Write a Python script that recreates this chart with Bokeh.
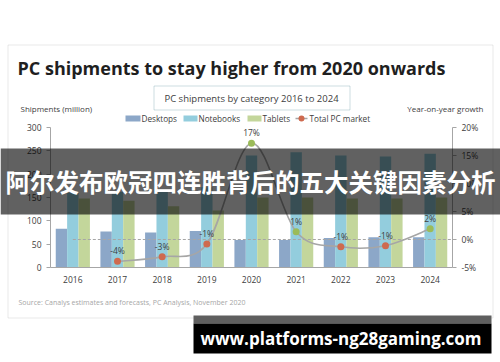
from bokeh.plotting import figure
from bokeh.models import (Range1d, LinearAxis, FixedTicker, PrintfTickFormatter,
                          Label, BoxAnnotation, ColumnDataSource)
from bokeh.transform import dodge
from bokeh.core.properties import value
from bokeh.embed import file_html
from bokeh.resources import INLINE

# ---------------- data ----------------
years = ["2016", "2017", "2018", "2019", "2020", "2021", "2022", "2023", "2024"]
desktops = [83, 77, 75, 78, 59, 59, 63, 65, 65]
notebooks = [160, 162, 165, 172, 240, 247, 240, 238, 244]
tablets = [148, 143, 131, 122, 150, 150, 148, 148, 150]
growth_years = ["2017", "2018", "2019", "2020", "2021", "2022", "2023", "2024"]
growth = [-3.9, -3.1, -0.8, 17.2, 1.4, -1.3, -1.1, 1.9]
left_ticks = [0, 50, 100, 150, 200, 250, 300]
right_ticks = [-5, 0, 5, 10, 15, 20]

title = "PC shipments to stay higher from 2020 onwards"
subtitle = "PC shipments by category 2016 to 2024"
banner = "阿尔发布欧冠四连胜背后的五大关键因素分析"
url = "www.platforms-ng28gaming.com"
source_note = "Source: Canalys estimates and forecasts, PC Analysis, November 2020"

C_DESK = "#8CA7C8"
C_NOTE = "#93CDDD"
C_TAB = "#C3D69B"
C_RED = "#CE6A4F"
C_GREEN = "#9BBB59"
C_LINE = "#A6A6A6"
C_TXT = "#404040"
C_AX = "#A6A6A6"

# ---------------- layout geometry (canvas pixels) ----------------
W, H = 500, 362
PX_L, PX_R, PY_T, PY_B = 50, 452, 127, 267   # plot area
L_MIN, L_MAX = left_ticks[0], left_ticks[-1]
R_MIN, R_MAX = right_ticks[0], right_ticks[-1]
nb = len(years)
ppx = (PX_R - PX_L) / nb
ppy = (PY_B - PY_T) / (L_MAX - L_MIN)
ppr = (PY_B - PY_T) / (R_MAX - R_MIN)
x_rng = Range1d(-0.5 - PX_L / ppx, nb - 0.5 + (W - PX_R) / ppx)
y_rng = Range1d(L_MIN - (H - PY_B) / ppy, L_MAX + PY_T / ppy)
r_rng = Range1d(R_MIN - (H - PY_B) / ppr, R_MAX + PY_T / ppr)

p = figure(width=W, height=H, output_backend="svg", toolbar_location=None,
           x_range=x_rng, y_range=y_rng, min_border=0,
           background_fill_color="white", border_fill_color="white")
p.outline_line_color = None
p.xgrid.visible = False
p.ygrid.visible = False
p.extra_y_ranges = {"pct": r_rng}

idx = list(range(nb))
src = ColumnDataSource(dict(x=idx, desktops=desktops, notebooks=notebooks, tablets=tablets))
bw = 0.255
p.vbar(x=dodge("x", -bw, range=p.x_range), top="desktops", width=bw, source=src,
       fill_color=C_DESK, line_color=None)
p.vbar(x=dodge("x", 0, range=p.x_range), top="notebooks", width=bw, source=src,
       fill_color=C_NOTE, line_color=None)
p.vbar(x=dodge("x", bw, range=p.x_range), top="tablets", width=bw, source=src,
       fill_color=C_TAB, line_color=None)

# zero reference line (secondary axis)
p.segment(x0=[idx[0]], y0=[0], x1=[nb - 0.5], y1=[0], y_range_name="pct",
          line_color=C_LINE, line_dash="3 2", line_width=1)

# smoothed growth line (Catmull-Rom -> cubic bezier)
gx = [years.index(y) for y in growth_years]
n = len(gx)
bx0, by0, bx1, by1, cx0, cy0, cx1, cy1 = [], [], [], [], [], [], [], []
for k in range(n - 1):
    pk = (gx[k], growth[k])
    pn = (gx[k + 1], growth[k + 1])
    pp = (gx[k - 1], growth[k - 1]) if k > 0 else pk
    pn2 = (gx[k + 2], growth[k + 2]) if k + 2 < n else pn
    bx0.append(pk[0]); by0.append(pk[1])
    bx1.append(pn[0]); by1.append(pn[1])
    cx0.append(pk[0] + (pn[0] - pp[0]) / 6); cy0.append(pk[1] + (pn[1] - pp[1]) / 6)
    cx1.append(pn[0] - (pn2[0] - pk[0]) / 6); cy1.append(pn[1] - (pn2[1] - pk[1]) / 6)
p.bezier(x0=bx0, y0=by0, x1=bx1, y1=by1, cx0=cx0, cy0=cy0, cx1=cx1, cy1=cy1,
         y_range_name="pct", line_color=C_LINE, line_width=1.6)

gcol = [C_GREEN if v > 0 else C_RED for v in growth]
p.scatter(x=gx, y=growth, size=7, fill_color=gcol, line_color=None, y_range_name="pct")
glab = [f"{round(v)}%" for v in growth]
p.text(x=gx, y=growth, text=glab, y_range_name="pct", y_offset=-10.5,
       text_align="center", text_baseline="middle", text_font=value("Open Sans"),
       text_font_size="8.5px", text_color=C_TXT)

# ---------------- axes (fixed at the plot-area edges) ----------------
xa = p.xaxis[0]
xa.fixed_location = L_MIN
xa.bounds = (-0.5, nb - 0.5)
xa.ticker = FixedTicker(ticks=idx)
xa.major_label_overrides = {i: y for i, y in zip(idx, years)}
xa.major_tick_out = 0
xa.major_tick_in = 0
xa.minor_tick_out = 0
xa.minor_tick_in = 0
xa.major_label_standoff = 8

ya = p.yaxis[0]
ya.fixed_location = -0.5
ya.bounds = (L_MIN, L_MAX)
ya.ticker = FixedTicker(ticks=left_ticks)
ya.major_tick_out = 4
ya.major_tick_in = 0
ya.minor_tick_out = 0
ya.minor_tick_in = 0
ya.major_label_standoff = 5

yr = LinearAxis(y_range_name="pct", ticker=FixedTicker(ticks=right_ticks),
                formatter=PrintfTickFormatter(format="%d%%"))
yr.fixed_location = nb - 0.5
yr.bounds = (R_MIN, R_MAX)
yr.major_tick_out = 4
yr.major_tick_in = 0
yr.minor_tick_out = 0
yr.minor_tick_in = 0
yr.major_label_standoff = 5
p.add_layout(yr, "right")

for ax in (xa, ya, yr):
    ax.axis_line_color = C_AX
    ax.major_tick_line_color = C_AX
    ax.major_label_text_font = "Open Sans"
    ax.major_label_text_font_size = "8.5px"
    ax.major_label_text_color = C_TXT

# ---------------- annotations (screen coords; frame == canvas) ----------------
def sx(X):
    return X

def sy(Y):
    return H - Y

def box(l, r, t, b, **kw):
    bb = BoxAnnotation(left=sx(l), right=sx(r), top=sy(t), bottom=sy(b),
                       left_units="screen", right_units="screen",
                       top_units="screen", bottom_units="screen", **kw)
    p.add_layout(bb)
    return bb

def label(X, Y, text, size, color=C_TXT, align="left", font="Open Sans", style="normal"):
    lb = Label(x=sx(X), y=sy(Y), x_units="screen", y_units="screen", text=text,
               text_font=font, text_font_size=size, text_color=color,
               text_align=align, text_baseline="middle", text_font_style=style)
    p.add_layout(lb)
    return lb

# outer border
box(7.5, 492.5, 44.5, 317.5, fill_color=None, fill_alpha=0, line_color="#B4B4B4", line_width=1)
# title
label(17, 67, title, "18px", color="#1F1F1F", style="bold")
# subtitle box
box(153.5, 349.5, 85.5, 109.5, fill_color=None, fill_alpha=0, line_color="#5B8C9A", line_width=1)
label(251, 97.5, subtitle, "9.5px", align="center")
label(20, 108, "Shipments (million)", "8px")
label(483, 108, "Year-on-year growth", "8px", align="right")
# legend
box(125, 140, 115, 121, fill_color=C_DESK, fill_alpha=1, line_color=None)
label(141, 118, "Desktops", "8.2px")
box(183, 197, 115, 121, fill_color=C_NOTE, fill_alpha=1, line_color=None)
label(198, 118, "Notebooks", "8.2px")
box(247, 261, 115, 121, fill_color=C_TAB, fill_alpha=1, line_color=None)
label(262, 118, "Tablets", "8.2px")
box(295, 307, 117.25, 118.75, fill_color=C_LINE, fill_alpha=1, line_color=None)
box(298, 304, 115, 121, fill_color=C_RED, fill_alpha=1, line_color=None, border_radius=3)
label(309, 118, "Total PC market", "8.2px")
# source
label(18, 302, source_note, "7px", color="#A6A6A6")

# overlay banner
box(0, 500, 148, 214, fill_color="black", fill_alpha=0.62, line_color=None)
label(250, 181, banner, "24.5px", color="white", align="center",
      font="Noto Sans CJK SC", style="bold")

# bottom url banner
box(193, 491, 315, 323, fill_color="#5F5F5F", fill_alpha=1, line_color=None)
box(193, 491, 323, 353, fill_color="black", fill_alpha=1, line_color=None)
label(340.5, 338, url, "17px", color="white", align="center", style="bold")

open("out.html", "w").write(file_html(p, INLINE))
